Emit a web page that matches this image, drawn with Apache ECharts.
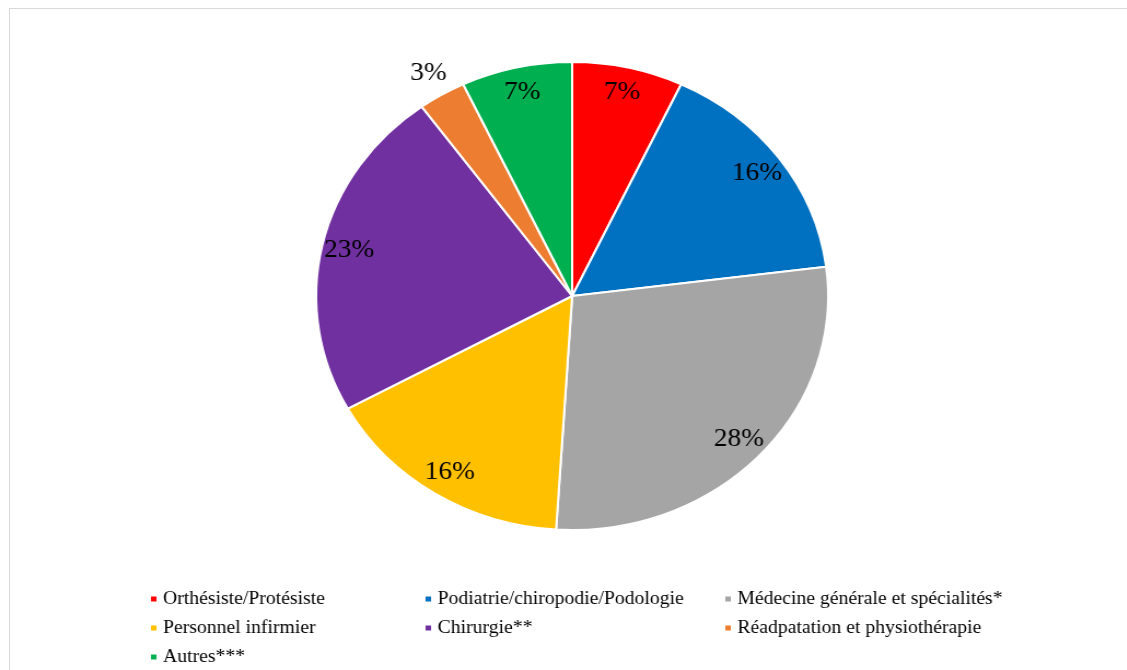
<!DOCTYPE html>
<html>
<head>
<meta charset="utf-8">
<script src="https://cdn.jsdelivr.net/npm/echarts@6/dist/echarts.min.js"></script>
<style>
  html, body { margin: 0; padding: 0; background: #ffffff; overflow: hidden; }
  #frame { position: absolute; left: 9px; top: 8px; width: 1130px; height: 680px;
           border-left: 1px solid #d9d9d9; border-top: 1px solid #d9d9d9; box-sizing: border-box; }
  /* the chart is drawn on a narrower canvas and widened, giving the oval pie */
  #chart { position: absolute; left: 0; top: 0; width: 1030px; height: 670px;
           transform: scaleX(1.094); transform-origin: 0 0; }
</style>
</head>
<body>
<div id="frame"></div>
<div id="chart"></div>
<script>
// Répartition par profession (%)
const categories = [
  'Orthésiste/Protésiste',
  'Podiatrie/chiropodie/Podologie',
  'Médecine générale et spécialités*',
  'Personnel infirmier',
  'Chirurgie**',
  'Réadpatation et physiothérapie',
  'Autres***'
];
const values = [7, 16, 28, 16, 23, 3, 7];
const colors = ['#FF0000', '#0070C0', '#A5A5A5', '#FFC000', '#7030A0', '#ED7D31', '#00B050'];
// slice whose label sits outside the pie
const outsideLabel = 'Réadpatation et physiothérapie';

// legend columns
const legendCol1 = [categories[0], categories[3], categories[6]];
const legendCol2 = [categories[1], categories[4]];
const legendCol3 = [categories[2], categories[5]];

const serif = '"Liberation Serif", "Times New Roman", serif';
const center = [523, 296];
const R = 234;

const chart = echarts.init(document.getElementById('chart'), null, { renderer: 'canvas' });

const mainData = categories.map((name, i) => ({
  name, value: values[i], itemStyle: { color: colors[i] }
}));

function labelRing(showOutside) {
  return categories.map((name, i) => ({
    name, value: values[i],
    label: { show: showOutside ? name === outsideLabel : name !== outsideLabel }
  }));
}

const legendBase = {
  orient: 'vertical',
  icon: 'rect',
  itemWidth: 7,
  itemHeight: 7,
  itemGap: 9,
  padding: 0,
  height: 80,
  selectedMode: false,
  textStyle: { fontFamily: serif, fontSize: 18, color: '#000', lineHeight: 20 },
  top: 589
};

const labelStyle = {
  position: 'inside',
  formatter: '{c}%',
  fontFamily: serif,
  fontSize: 25,
  color: '#000'
};

chart.setOption({
  backgroundColor: 'transparent',
  animation: false,
  color: colors,
  legend: [
    Object.assign({}, legendBase, { left: 136, data: legendCol1 }),
    Object.assign({}, legendBase, { left: 387, data: legendCol2 }),
    Object.assign({}, legendBase, { left: 661, data: legendCol3 })
  ],
  series: [
    {
      type: 'pie',
      center: center,
      radius: [0, R],
      startAngle: 90,
      clockwise: true,
      avoidLabelOverlap: false,
      itemStyle: { borderColor: '#ffffff', borderWidth: 2 },
      label: { show: false },
      labelLine: { show: false },
      emphasis: { disabled: true },
      data: mainData
    },
    {
      // value labels inside the slices
      type: 'pie',
      center: center,
      radius: [0, R * 1.76],
      startAngle: 90,
      silent: true,
      legendHoverLink: false,
      avoidLabelOverlap: false,
      itemStyle: { color: 'transparent', borderWidth: 0 },
      label: labelStyle,
      labelLine: { show: false },
      emphasis: { disabled: true },
      data: labelRing(false)
    },
    {
      // value label placed just outside the thin slice
      type: 'pie',
      center: center,
      radius: [0, R * 2.18],
      startAngle: 90,
      silent: true,
      legendHoverLink: false,
      avoidLabelOverlap: false,
      itemStyle: { color: 'transparent', borderWidth: 0 },
      label: labelStyle,
      labelLine: { show: false },
      emphasis: { disabled: true },
      data: labelRing(true)
    }
  ]
});
</script>
</body>
</html>
